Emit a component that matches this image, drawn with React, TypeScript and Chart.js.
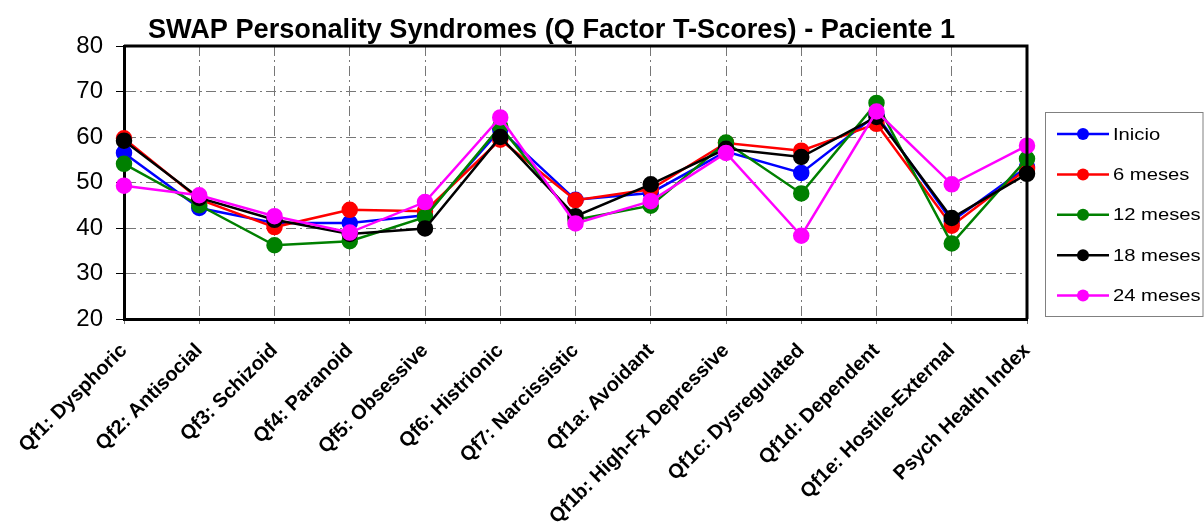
import React, { useEffect, useRef } from "react";
import { Chart, registerables } from "chart.js";

Chart.register(...registerables);

const chartTitle = "SWAP Personality Syndromes (Q Factor T-Scores) - Paciente 1";

const categories = [
  "Qf1: Dysphoric",
  "Qf2: Antisocial",
  "Qf3: Schizoid",
  "Qf4: Paranoid",
  "Qf5: Obsessive",
  "Qf6: Histrionic",
  "Qf7: Narcissistic",
  "Qf1a: Avoidant",
  "Qf1b: High-Fx Depressive",
  "Qf1c: Dysregulated",
  "Qf1d: Dependent",
  "Qf1e: Hostile-External",
  "Psych Health Index",
];

const inicio = [56.5, 44.4, 41.1, 41.1, 42.8, 61.6, 46.2, 47.7, 56.8, 52.1, 64.9, 41.5, 53.4];
const meses6 = [59.7, 46.3, 40.2, 44.0, 43.7, 59.4, 46.1, 48.5, 58.7, 57.0, 62.9, 40.5, 53.0];
const meses12 = [54.1, 45.0, 36.2, 37.1, 42.4, 62.3, 41.8, 44.9, 58.8, 47.6, 67.5, 36.6, 55.2];
const meses18 = [59.2, 46.6, 41.8, 38.7, 39.9, 60.0, 42.6, 49.6, 57.4, 55.6, 64.4, 42.2, 51.9];
const meses24 = [49.3, 47.2, 42.6, 39.0, 45.7, 64.3, 41.0, 45.9, 56.5, 38.3, 65.6, 49.6, 58.1];

const seriesLabels = ["Inicio", "6 meses", "12 meses", "18 meses", "24 meses"];
const seriesValues = [inicio, meses6, meses12, meses18, meses24];
const seriesColors = ["#0000FF", "#FF0000", "#008000", "#000000", "#FF00FF"];

const yMin = 20;
const yMax = 80;
const yStep = 10;

const FONT = "'Liberation Sans', Arial, sans-serif";

const framePlugin = {
  id: "frameAndExtras",
  afterDraw(chart: any) {
    const { ctx, chartArea } = chart;
    ctx.save();
    // top and right frame
    ctx.strokeStyle = "#000";
    ctx.lineWidth = 3;
    ctx.beginPath();
    ctx.moveTo(chartArea.left, chartArea.top);
    ctx.lineTo(chartArea.right, chartArea.top);
    ctx.lineTo(chartArea.right, chartArea.bottom);
    ctx.stroke();

    // title
    ctx.font = "bold 28px 'Liberation Sans Narrow', 'Liberation Sans', Arial, sans-serif";
    const w = ctx.measureText(chartTitle).width;
    const target = 807;
    const cx = 551.5;
    ctx.translate(cx, 38);
    ctx.scale(target / w, 1);
    ctx.fillStyle = "#000";
    ctx.textAlign = "center";
    ctx.textBaseline = "alphabetic";
    ctx.fillText(chartTitle, 0, 0);
    ctx.restore();

    // legend
    ctx.save();
    const lx = chartArea.right + 18;
    const ly = 112;
    ctx.strokeStyle = "#808080";
    ctx.lineWidth = 1;
    ctx.strokeRect(lx + 0.5, ly + 0.5, 1203 - lx - 0.5, 204);
    chart.data.datasets.forEach((ds: any, i: number) => {
      const y = ly + 22 + i * 40.4;
      ctx.strokeStyle = ds.borderColor;
      ctx.lineWidth = 2.5;
      ctx.beginPath();
      ctx.moveTo(lx + 12, y);
      ctx.lineTo(lx + 64, y);
      ctx.stroke();
      ctx.fillStyle = ds.backgroundColor;
      ctx.beginPath();
      ctx.arc(lx + 38, y, 6, 0, Math.PI * 2);
      ctx.fill();
      ctx.save();
      ctx.fillStyle = "#000";
      ctx.font = "17px " + FONT;
      ctx.textAlign = "left";
      ctx.textBaseline = "middle";
      ctx.translate(lx + 68, y + 1);
      ctx.scale(1.19, 1);
      ctx.fillText(ds.label, 0, 0);
      ctx.restore();
    });
    ctx.restore();
  },
};

export default function App() {
  const ref = useRef<HTMLCanvasElement | null>(null);

  useEffect(() => {
    if (!ref.current) return;
    const chart = new Chart(ref.current, {
      type: "line",
      data: {
        labels: categories,
        datasets: seriesLabels.map((label, i) => ({
          label,
          data: seriesValues[i],
          borderColor: seriesColors[i],
          backgroundColor: seriesColors[i],
          pointBackgroundColor: seriesColors[i],
          pointBorderColor: seriesColors[i],
          pointRadius: 7,
          pointHoverRadius: 7,
          borderWidth: 2.5,
          tension: 0,
          order: seriesLabels.length - i,
        })),
      },
      options: {
        responsive: false,
        animation: false,
        events: [],
        layout: { padding: { top: 46, right: 177, left: 0, bottom: 0 } },
        plugins: {
          legend: { display: false },
          title: { display: false },
          tooltip: { enabled: false },
        },
        scales: {
          x: {
            type: "category",
            offset: false,
            grid: {
              color: "#777777",
              lineWidth: 1,
              tickLength: 5,
              tickColor: "#777777",
              tickBorderDash: [],
            },
            border: { color: "#000", width: 3, dash: [10, 4, 2, 4] },
            ticks: {
              autoSkip: false,
              maxRotation: 45,
              minRotation: 45,
              padding: 15,
              labelOffset: 0,
              color: "#000",
              font: { family: FONT, size: 20, weight: "bold" },
            },
            afterFit(scale: any) {
              scale.height = 205;
              scale.paddingLeft = 0;
              scale.paddingRight = 0;
            },
          },
          y: {
            min: yMin,
            max: yMax,
            grid: {
              color: (c: any) => (c.tick && (c.tick.value === yMax || c.tick.value === yMin) ? "rgba(0,0,0,0)" : "#777777"),
              lineWidth: 1,
              tickLength: 8,
              tickColor: "#000",
              tickBorderDash: [],
            },
            border: { color: "#000", width: 3, dash: [10, 4, 2, 4] },
            ticks: {
              stepSize: yStep,
              padding: 13,
              color: "#000",
              font: { family: FONT, size: 24 },
            },
            afterFit(scale: any) {
              scale.width = 124;
            },
          },
        },
      },
      plugins: [framePlugin],
    });
    return () => chart.destroy();
  }, []);

  return (
    <div style={{ position: "fixed", left: 0, top: 0, width: 1204, height: 524, background: "#fff" }}>
      <canvas ref={ref} width={1204} height={524} style={{ width: 1204, height: 524, display: "block" }} />
    </div>
  );
}
